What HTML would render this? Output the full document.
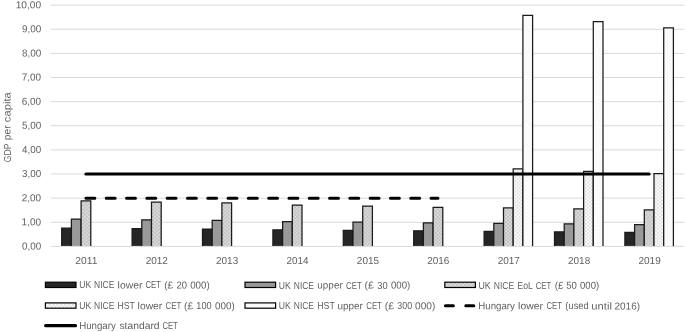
<!DOCTYPE html>
<html><head><meta charset="utf-8"><title>chart</title>
<style>
html,body{margin:0;padding:0;background:#fff;}
svg{display:block;font-family:"Liberation Sans",sans-serif;}
text{fill:#626262;font-size:10.1px;}
</style></head><body>
<svg width="685" height="332" viewBox="0 0 685 332">
<defs>
<pattern id="pe" width="3.9" height="3.6" patternUnits="userSpaceOnUse"><rect width="3.9" height="3.6" fill="#d0d0d0"/><rect x="0.3" y="0.2" width="1.1" height="1.1" fill="#a6a6a6"/><rect x="2.25" y="2" width="1.1" height="1.1" fill="#a6a6a6"/><rect x="2.25" y="0.2" width="1.1" height="1.1" fill="#f2f2f2"/><rect x="0.3" y="2" width="1.1" height="1.1" fill="#f2f2f2"/></pattern>
<pattern id="ph" width="3.9" height="3.6" patternUnits="userSpaceOnUse"><rect width="3.9" height="3.6" fill="#fcfcfc"/><rect x="0.3" y="0.2" width="1.1" height="1.1" fill="#b0b0b0"/><rect x="2.25" y="2" width="1.1" height="1.1" fill="#b0b0b0"/></pattern>
<pattern id="pu" width="3.9" height="3.6" patternUnits="userSpaceOnUse"><rect width="3.9" height="3.6" fill="#fff"/><rect x="0.3" y="0.2" width="1.1" height="1.1" fill="#e6e6e6"/><rect x="2.25" y="2" width="1.1" height="1.1" fill="#e6e6e6"/></pattern>
</defs>
<rect width="685" height="332" fill="#fff"/>

<line x1="50.75" x2="684.35" y1="246.40" y2="246.40" stroke="#d9d9d9" stroke-width="1"/>
<text transform="translate(22.00,249.50) rotate(0.03) scale(0.9742,1)">0,00</text>
<line x1="50.75" x2="684.35" y1="222.27" y2="222.27" stroke="#d9d9d9" stroke-width="1"/>
<text transform="translate(21.60,225.37) rotate(0.03) scale(0.9954,1)">1,00</text>
<line x1="50.75" x2="684.35" y1="198.14" y2="198.14" stroke="#d9d9d9" stroke-width="1"/>
<text transform="translate(21.80,201.24) rotate(0.03) scale(0.9847,1)">2,00</text>
<line x1="50.75" x2="684.35" y1="174.01" y2="174.01" stroke="#d9d9d9" stroke-width="1"/>
<text transform="translate(22.00,177.11) rotate(0.03) scale(0.9742,1)">3,00</text>
<line x1="50.75" x2="684.35" y1="149.88" y2="149.88" stroke="#d9d9d9" stroke-width="1"/>
<text transform="translate(22.10,152.98) rotate(0.03) scale(0.9691,1)">4,00</text>
<line x1="50.75" x2="684.35" y1="125.75" y2="125.75" stroke="#d9d9d9" stroke-width="1"/>
<text transform="translate(21.90,128.85) rotate(0.03) scale(0.9794,1)">5,00</text>
<line x1="50.75" x2="684.35" y1="101.62" y2="101.62" stroke="#d9d9d9" stroke-width="1"/>
<text transform="translate(21.80,104.72) rotate(0.03) scale(0.9847,1)">6,00</text>
<line x1="50.75" x2="684.35" y1="77.49" y2="77.49" stroke="#d9d9d9" stroke-width="1"/>
<text transform="translate(21.80,80.59) rotate(0.03) scale(0.9847,1)">7,00</text>
<line x1="50.75" x2="684.35" y1="53.36" y2="53.36" stroke="#d9d9d9" stroke-width="1"/>
<text transform="translate(21.90,56.46) rotate(0.03) scale(0.9794,1)">8,00</text>
<line x1="50.75" x2="684.35" y1="29.23" y2="29.23" stroke="#d9d9d9" stroke-width="1"/>
<text transform="translate(21.90,32.33) rotate(0.03) scale(0.9794,1)">9,00</text>
<line x1="50.75" x2="684.35" y1="5.10" y2="5.10" stroke="#d9d9d9" stroke-width="1"/>
<text transform="translate(15.69,8.20) rotate(0.03) scale(1.0082,1)">10,00</text>
<rect x="61.70" y="228.18" width="9.70" height="17.72" fill="#262626"/>
<path d="M61.70 245.90V228.18H71.40V245.90" fill="none" stroke="#1a1a1a" stroke-width="1.25"/>
<rect x="71.40" y="219.07" width="9.70" height="26.83" fill="#999999"/>
<path d="M71.40 245.90V219.07H81.10V245.90" fill="none" stroke="#1a1a1a" stroke-width="1.25"/>
<rect x="81.10" y="200.85" width="9.70" height="45.05" fill="url(#pe)"/>
<path d="M81.10 245.90V200.85H90.80V245.90" fill="none" stroke="#1a1a1a" stroke-width="1.25"/>
<text transform="translate(75.23,264.10) rotate(0.03) scale(1.0218,1)">2011</text>
<rect x="132.10" y="228.66" width="9.70" height="17.24" fill="#262626"/>
<path d="M132.10 245.90V228.66H141.80V245.90" fill="none" stroke="#1a1a1a" stroke-width="1.25"/>
<rect x="141.80" y="219.80" width="9.70" height="26.10" fill="#999999"/>
<path d="M141.80 245.90V219.80H151.50V245.90" fill="none" stroke="#1a1a1a" stroke-width="1.25"/>
<rect x="151.50" y="202.06" width="9.70" height="43.84" fill="url(#pe)"/>
<path d="M151.50 245.90V202.06H161.20V245.90" fill="none" stroke="#1a1a1a" stroke-width="1.25"/>
<text transform="translate(145.65,264.10) rotate(0.03) scale(0.9908,1)">2012</text>
<rect x="202.50" y="229.03" width="9.70" height="16.87" fill="#262626"/>
<path d="M202.50 245.90V229.03H212.20V245.90" fill="none" stroke="#1a1a1a" stroke-width="1.25"/>
<rect x="212.20" y="220.34" width="9.70" height="25.56" fill="#999999"/>
<path d="M212.20 245.90V220.34H221.90V245.90" fill="none" stroke="#1a1a1a" stroke-width="1.25"/>
<rect x="221.90" y="202.97" width="9.70" height="42.93" fill="url(#pe)"/>
<path d="M221.90 245.90V202.97H231.60V245.90" fill="none" stroke="#1a1a1a" stroke-width="1.25"/>
<text transform="translate(216.05,264.10) rotate(0.03) scale(0.9862,1)">2013</text>
<rect x="272.90" y="229.85" width="9.70" height="16.05" fill="#262626"/>
<path d="M272.90 245.90V229.85H282.60V245.90" fill="none" stroke="#1a1a1a" stroke-width="1.25"/>
<rect x="282.60" y="221.57" width="9.70" height="24.33" fill="#999999"/>
<path d="M282.60 245.90V221.57H292.30V245.90" fill="none" stroke="#1a1a1a" stroke-width="1.25"/>
<rect x="292.30" y="205.02" width="9.70" height="40.88" fill="url(#pe)"/>
<path d="M292.30 245.90V205.02H302.00V245.90" fill="none" stroke="#1a1a1a" stroke-width="1.25"/>
<text transform="translate(286.45,264.10) rotate(0.03) scale(0.9816,1)">2014</text>
<rect x="343.30" y="230.28" width="9.70" height="15.62" fill="#262626"/>
<path d="M343.30 245.90V230.28H353.00V245.90" fill="none" stroke="#1a1a1a" stroke-width="1.25"/>
<rect x="353.00" y="222.22" width="9.70" height="23.68" fill="#999999"/>
<path d="M353.00 245.90V222.22H362.70V245.90" fill="none" stroke="#1a1a1a" stroke-width="1.25"/>
<rect x="362.70" y="206.10" width="9.70" height="39.80" fill="url(#pe)"/>
<path d="M362.70 245.90V206.10H372.40V245.90" fill="none" stroke="#1a1a1a" stroke-width="1.25"/>
<text transform="translate(356.85,264.10) rotate(0.03) scale(0.9862,1)">2015</text>
<rect x="413.70" y="230.76" width="9.70" height="15.14" fill="#262626"/>
<path d="M413.70 245.90V230.76H423.40V245.90" fill="none" stroke="#1a1a1a" stroke-width="1.25"/>
<rect x="423.40" y="222.95" width="9.70" height="22.95" fill="#999999"/>
<path d="M423.40 245.90V222.95H433.10V245.90" fill="none" stroke="#1a1a1a" stroke-width="1.25"/>
<rect x="433.10" y="207.31" width="9.70" height="38.59" fill="url(#pe)"/>
<path d="M433.10 245.90V207.31H442.80V245.90" fill="none" stroke="#1a1a1a" stroke-width="1.25"/>
<text transform="translate(427.25,264.10) rotate(0.03) scale(0.9862,1)">2016</text>
<rect x="484.10" y="231.49" width="9.70" height="14.41" fill="#262626"/>
<path d="M484.10 245.90V231.49H493.80V245.90" fill="none" stroke="#1a1a1a" stroke-width="1.25"/>
<rect x="493.80" y="223.31" width="9.70" height="22.59" fill="#999999"/>
<path d="M493.80 245.90V223.31H503.50V245.90" fill="none" stroke="#1a1a1a" stroke-width="1.25"/>
<rect x="503.50" y="207.91" width="9.70" height="37.99" fill="url(#pe)"/>
<path d="M503.50 245.90V207.91H513.20V245.90" fill="none" stroke="#1a1a1a" stroke-width="1.25"/>
<rect x="513.20" y="168.94" width="9.70" height="76.96" fill="url(#ph)"/>
<path d="M513.20 245.90V168.94H522.90V245.90" fill="none" stroke="#1a1a1a" stroke-width="1.25"/>
<rect x="522.90" y="15.48" width="9.70" height="230.42" fill="url(#pu)"/>
<path d="M522.90 245.90V15.48H532.60V245.90" fill="none" stroke="#1a1a1a" stroke-width="1.25"/>
<text transform="translate(497.65,264.10) rotate(0.03) scale(0.9908,1)">2017</text>
<rect x="554.50" y="231.90" width="9.70" height="14.00" fill="#262626"/>
<path d="M554.50 245.90V231.90H564.20V245.90" fill="none" stroke="#1a1a1a" stroke-width="1.25"/>
<rect x="564.20" y="223.92" width="9.70" height="21.98" fill="#999999"/>
<path d="M564.20 245.90V223.92H573.90V245.90" fill="none" stroke="#1a1a1a" stroke-width="1.25"/>
<rect x="573.90" y="208.94" width="9.70" height="36.96" fill="url(#pe)"/>
<path d="M573.90 245.90V208.94H583.60V245.90" fill="none" stroke="#1a1a1a" stroke-width="1.25"/>
<rect x="583.60" y="171.48" width="9.70" height="74.42" fill="url(#ph)"/>
<path d="M583.60 245.90V171.48H593.30V245.90" fill="none" stroke="#1a1a1a" stroke-width="1.25"/>
<rect x="593.30" y="21.63" width="9.70" height="224.27" fill="url(#pu)"/>
<path d="M593.30 245.90V21.63H603.00V245.90" fill="none" stroke="#1a1a1a" stroke-width="1.25"/>
<text transform="translate(568.05,264.10) rotate(0.03) scale(0.9862,1)">2018</text>
<rect x="624.90" y="232.31" width="9.70" height="13.59" fill="#262626"/>
<path d="M624.90 245.90V232.31H634.60V245.90" fill="none" stroke="#1a1a1a" stroke-width="1.25"/>
<rect x="634.60" y="224.54" width="9.70" height="21.36" fill="#999999"/>
<path d="M634.60 245.90V224.54H644.30V245.90" fill="none" stroke="#1a1a1a" stroke-width="1.25"/>
<rect x="644.30" y="209.96" width="9.70" height="35.94" fill="url(#pe)"/>
<path d="M644.30 245.90V209.96H654.00V245.90" fill="none" stroke="#1a1a1a" stroke-width="1.25"/>
<rect x="654.00" y="173.53" width="9.70" height="72.37" fill="url(#ph)"/>
<path d="M654.00 245.90V173.53H663.70V245.90" fill="none" stroke="#1a1a1a" stroke-width="1.25"/>
<rect x="663.70" y="27.78" width="9.70" height="218.12" fill="url(#pu)"/>
<path d="M663.70 245.90V27.78H673.40V245.90" fill="none" stroke="#1a1a1a" stroke-width="1.25"/>
<text transform="translate(638.45,264.10) rotate(0.03) scale(0.9908,1)">2019</text>
<line x1="85.95" x2="437.95" y1="198.14" y2="198.14" stroke="#000" stroke-width="3" stroke-linecap="round" stroke-dasharray="8.9 11.4"/>
<line x1="85.95" x2="649.15" y1="174.01" y2="174.01" stroke="#000" stroke-width="3.1" stroke-linecap="round"/>
<text y="10.6" transform="translate(0,161.9) rotate(-90.03)"><tspan x="-0.43" textLength="18.74" lengthAdjust="spacingAndGlyphs">GDP</tspan> <tspan x="21.68" textLength="14.85" lengthAdjust="spacingAndGlyphs">per</tspan> <tspan x="39.75" textLength="29.91" lengthAdjust="spacingAndGlyphs">capita</tspan></text>
<rect x="45.4" y="282.2" width="30.6" height="5.3" fill="#262626" stroke="#000" stroke-width="1.2"/>
<text y="288.40" transform="rotate(0.03)"><tspan x="79.40" textLength="11.96" lengthAdjust="spacingAndGlyphs">UK</tspan> <tspan x="94.22" textLength="20.29" lengthAdjust="spacingAndGlyphs">NICE</tspan> <tspan x="117.78" textLength="24.76" lengthAdjust="spacingAndGlyphs">lower</tspan> <tspan x="145.62" textLength="15.34" lengthAdjust="spacingAndGlyphs">CET</tspan> <tspan x="164.40" textLength="8.86" lengthAdjust="spacingAndGlyphs">(£</tspan> <tspan x="176.63" textLength="10.51" lengthAdjust="spacingAndGlyphs">20</tspan> <tspan x="190.31" textLength="19.51" lengthAdjust="spacingAndGlyphs">000)</tspan></text>
<rect x="245.0" y="282.2" width="30.6" height="5.3" fill="#999999" stroke="#000" stroke-width="1.2"/>
<text y="288.40" transform="rotate(0.03)"><tspan x="279.00" textLength="11.96" lengthAdjust="spacingAndGlyphs">UK</tspan> <tspan x="294.03" textLength="20.08" lengthAdjust="spacingAndGlyphs">NICE</tspan> <tspan x="317.40" textLength="25.53" lengthAdjust="spacingAndGlyphs">upper</tspan> <tspan x="346.21" textLength="15.55" lengthAdjust="spacingAndGlyphs">CET</tspan> <tspan x="364.77" textLength="9.30" lengthAdjust="spacingAndGlyphs">(£</tspan> <tspan x="377.42" textLength="10.31" lengthAdjust="spacingAndGlyphs">30</tspan> <tspan x="391.11" textLength="19.30" lengthAdjust="spacingAndGlyphs">000)</tspan></text>
<rect x="444.8" y="282.2" width="30.6" height="5.3" fill="url(#pe)" stroke="#000" stroke-width="1.2"/>
<text y="288.40" transform="rotate(0.03)"><tspan x="478.58" textLength="12.28" lengthAdjust="spacingAndGlyphs">UK</tspan> <tspan x="493.92" textLength="20.29" lengthAdjust="spacingAndGlyphs">NICE</tspan> <tspan x="517.52" textLength="15.21" lengthAdjust="spacingAndGlyphs">EoL</tspan> <tspan x="535.92" textLength="15.34" lengthAdjust="spacingAndGlyphs">CET</tspan> <tspan x="554.80" textLength="8.86" lengthAdjust="spacingAndGlyphs">(£</tspan> <tspan x="566.42" textLength="10.63" lengthAdjust="spacingAndGlyphs">50</tspan> <tspan x="580.21" textLength="19.09" lengthAdjust="spacingAndGlyphs">000)</tspan></text>
<rect x="45.4" y="302.9" width="30.6" height="5.3" fill="url(#ph)" stroke="#000" stroke-width="1.2"/>
<text y="309.10" transform="rotate(0.03)"><tspan x="79.40" textLength="11.96" lengthAdjust="spacingAndGlyphs">UK</tspan> <tspan x="94.22" textLength="20.29" lengthAdjust="spacingAndGlyphs">NICE</tspan> <tspan x="117.71" textLength="17.17" lengthAdjust="spacingAndGlyphs">HST</tspan> <tspan x="137.78" textLength="24.65" lengthAdjust="spacingAndGlyphs">lower</tspan> <tspan x="165.61" textLength="15.65" lengthAdjust="spacingAndGlyphs">CET</tspan> <tspan x="184.19" textLength="9.08" lengthAdjust="spacingAndGlyphs">(£</tspan> <tspan x="196.46" textLength="15.27" lengthAdjust="spacingAndGlyphs">100</tspan> <tspan x="215.20" textLength="19.72" lengthAdjust="spacingAndGlyphs">000)</tspan></text>
<rect x="245.0" y="302.9" width="30.6" height="5.3" fill="url(#pu)" stroke="#000" stroke-width="1.2"/>
<text y="309.10" transform="rotate(0.03)"><tspan x="279.00" textLength="11.96" lengthAdjust="spacingAndGlyphs">UK</tspan> <tspan x="294.03" textLength="20.08" lengthAdjust="spacingAndGlyphs">NICE</tspan> <tspan x="317.30" textLength="17.59" lengthAdjust="spacingAndGlyphs">HST</tspan> <tspan x="337.60" textLength="25.43" lengthAdjust="spacingAndGlyphs">upper</tspan> <tspan x="366.52" textLength="15.34" lengthAdjust="spacingAndGlyphs">CET</tspan> <tspan x="384.87" textLength="9.30" lengthAdjust="spacingAndGlyphs">(£</tspan> <tspan x="397.53" textLength="14.79" lengthAdjust="spacingAndGlyphs">300</tspan> <tspan x="415.20" textLength="20.24" lengthAdjust="spacingAndGlyphs">000)</tspan></text>
<line x1="445.4" x2="474" y1="305.7" y2="305.7" stroke="#000" stroke-width="3" stroke-linecap="round" stroke-dasharray="8 12.4"/>
<text y="309.10" transform="rotate(0.03)"><tspan x="478.42" textLength="36.68" lengthAdjust="spacingAndGlyphs">Hungary</tspan> <tspan x="518.28" textLength="24.76" lengthAdjust="spacingAndGlyphs">lower</tspan> <tspan x="546.62" textLength="15.34" lengthAdjust="spacingAndGlyphs">CET</tspan> <tspan x="565.54" textLength="23.28" lengthAdjust="spacingAndGlyphs">(used</tspan> <tspan x="591.53" textLength="20.57" lengthAdjust="spacingAndGlyphs">until</tspan> <tspan x="614.70" textLength="25.53" lengthAdjust="spacingAndGlyphs">2016)</tspan></text>
<line x1="45.7" x2="75.5" y1="325.7" y2="325.7" stroke="#000" stroke-width="3.2" stroke-linecap="round"/>
<text y="329.00" transform="rotate(0.03)"><tspan x="79.32" textLength="36.68" lengthAdjust="spacingAndGlyphs">Hungary</tspan> <tspan x="119.59" textLength="40.19" lengthAdjust="spacingAndGlyphs">standard</tspan> <tspan x="162.62" textLength="15.34" lengthAdjust="spacingAndGlyphs">CET</tspan></text>
</svg></body></html>
